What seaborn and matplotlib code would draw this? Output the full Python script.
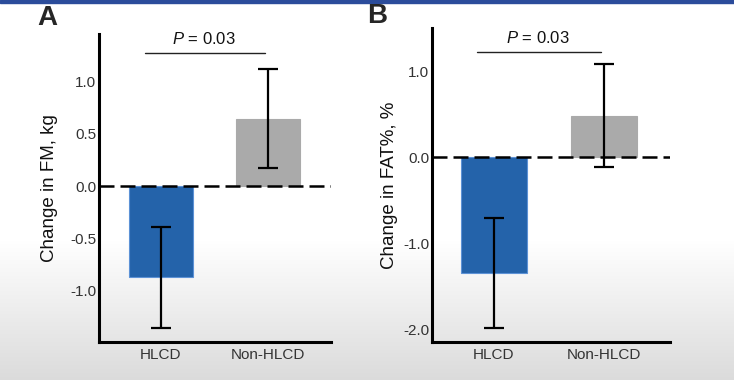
import matplotlib
matplotlib.use('Agg')
import matplotlib.pyplot as plt
import seaborn as sns
import pandas as pd
import numpy as np
from matplotlib.patches import Rectangle

# Data
groups = ['HLCD', 'Non-HLCD']
fm_change = [-0.87, 0.64]
fm_err = [0.48, 0.47]
fat_change = [-1.35, 0.48]
fat_err = [0.64, 0.60]
p_label = '$P$ = 0.03'

bar_colors = ['#2463aa', '#aaaaaa']


def draw_panel(ax, values, errors, ylabel, yticks, ylim, xlim, letter, letter_xy, p_y, label_x):
    df = pd.DataFrame({'group': groups, 'value': values})
    sns.barplot(data=df, x='group', y='value', hue='group', palette=bar_colors,
                saturation=1, width=0.6, legend=False, ax=ax, errorbar=None, zorder=2)
    for patch, col in zip(ax.patches, ['#5d92d6', '#aaaaaa']):
        patch.set_edgecolor(col)
        patch.set_linewidth(0.8)
    ax.errorbar(range(len(groups)), values, yerr=errors, fmt='none', ecolor='black',
                elinewidth=1.6, capsize=7.5, capthick=1.6, zorder=4)
    ax.axhline(0, color='black', lw=1.8, linestyle=(0, (6, 2.4)), zorder=5)

    ax.set_ylim(*ylim)
    ax.set_xlim(*xlim)
    ax.set_yticks(yticks)
    ax.set_yticklabels([f'{t:.1f}' for t in yticks], color='#333333', fontsize=11)
    ax.tick_params(axis='both', length=0, pad=2)
    ax.tick_params(axis='x', labelsize=11, labelcolor='#333333', pad=4)
    ax.set_xlabel('')
    ax.set_ylabel(ylabel, fontsize=13.5, color='#111111')
    ax.yaxis.set_label_coords(label_x, 0.5)

    for side in ['top', 'right']:
        ax.spines[side].set_visible(False)
    for side in ['left', 'bottom']:
        ax.spines[side].set_linewidth(2.2)
        ax.spines[side].set_color('black')
    ax.patch.set_alpha(0)

    # significance bracket
    ax.plot([-0.15, 0.97], [p_y, p_y], color='#222222', lw=1.0, clip_on=False)
    ax.text(0.4, p_y + (ylim[1] - ylim[0]) * 0.02, p_label, ha='center', va='bottom',
            fontsize=12, color='#111111')
    ax.figure.text(letter_xy[0], letter_xy[1], letter, fontsize=20, fontweight='bold',
                   ha='center', va='center')


sns.set_theme(style='white')
plt.rcParams['font.family'] = ['Liberation Sans', 'DejaVu Sans']
plt.rcParams['mathtext.fontset'] = 'custom'
plt.rcParams['mathtext.it'] = 'Liberation Sans:italic'

fig = plt.figure(figsize=(7.34, 3.80), dpi=100)

# background: white fading to light grey at the bottom, with blue rule on top
bg = fig.add_axes([0, 0, 1, 1], zorder=-10)
grad = np.ones((380, 1))
start = 240
grad[start:, 0] = np.linspace(1.0, 0.86, 380 - start)
bg.imshow(np.dstack([grad, grad, grad]), aspect='auto', extent=[0, 1, 0, 1])
bg.add_patch(Rectangle((0, 1 - 3 / 380), 1, 3 / 380, color='#2b4c9b'))
bg.set_axis_off()

axA = fig.add_axes([99 / 734, 1 - 342 / 380, (331 - 99) / 734, (342 - 34) / 380])
axB = fig.add_axes([432 / 734, 1 - 342 / 380, (670 - 432) / 734, (342 - 28) / 380])

draw_panel(axA, fm_change, fm_err, 'Change in FM, kg',
           [-1.0, -0.5, 0.0, 0.5, 1.0], (-1.486, 1.448), (-0.576, 1.59),
           'A', (47 / 734, 1 - 18 / 380), 1.27, -(99 - 58) / (331 - 99))
draw_panel(axB, fat_change, fat_err, 'Change in FAT%, %',
           [-2.0, -1.0, 0.0, 1.0], (-2.15, 1.5), (-0.56, 1.6),
           'B', (377 / 734, 1 - 16 / 380), 1.22, -(432 - 398) / (670 - 432))

fig.savefig('out.png', dpi=100)
